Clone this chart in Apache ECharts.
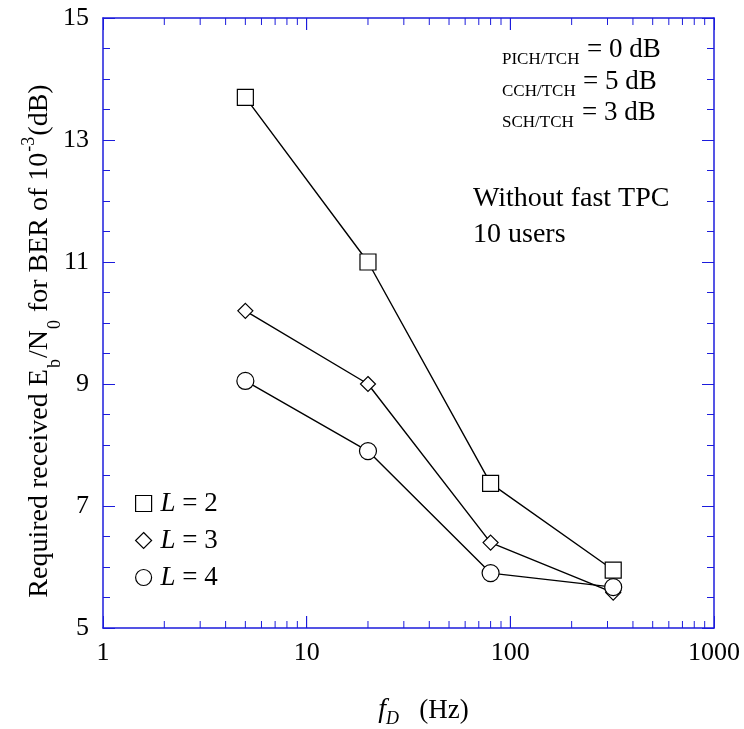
<!DOCTYPE html>
<html>
<head>
<meta charset="utf-8">
<script src="https://cdn.jsdelivr.net/npm/echarts@6/dist/echarts.min.js"></script>
<style>html,body{margin:0;padding:0;background:#fff}#c{width:744px;height:729px}</style>
</head>
<body>
<div id="c"></div>
<script>
// ---- data ----
const fD = [5, 20, 80, 320];
const seriesL2 = [13.7, 11.0, 7.37, 5.95];
const seriesL3 = [10.2, 9.0, 6.4, 5.58];
const seriesL4 = [9.05, 7.9, 5.9, 5.67];
const seriesNames = ['L = 2', 'L = 3', 'L = 4'];
const xTickLabels = ['1', '10', '100', '1000'];
const xMinorTicks = [2,3,4,5,6,7,8,9,20,30,40,50,60,70,80,90,200,300,400,500,600,700,800,900];
const xMajorInner = [10, 100];
const yMin = 5, yMax = 15, yInterval = 2;

const AX = '#1c1cdc';
const SERIF = '"Liberation Serif", "DejaVu Serif", serif';

const chart = echarts.init(document.getElementById('c'));

function tickSeries(values, len) {
  return {
    type: 'custom',
    silent: true,
    xAxisIndex: 0, yAxisIndex: 0,
    clip: false,
    z: 5,
    data: values.map(v => [v]),
    encode: { x: 0 },
    renderItem: function (params, api) {
      const v = api.value(0);
      const b = api.coord([v, yMin]);
      const t = api.coord([v, yMax]);
      return {
        type: 'group',
        children: [
          { type: 'line', shape: { x1: b[0], y1: b[1], x2: b[0], y2: b[1] - len }, style: { stroke: AX, lineWidth: 1 } },
          { type: 'line', shape: { x1: t[0], y1: t[1], x2: t[0], y2: t[1] + len }, style: { stroke: AX, lineWidth: 1 } }
        ]
      };
    }
  };
}

function lineSeries(name, vals, symbol, size) {
  return {
    name: name,
    type: 'line',
    data: fD.map((x, i) => [x, vals[i]]),
    symbol: symbol,
    symbolSize: size,
    showAllSymbol: true,
    lineStyle: { color: '#000', width: 1.4 },
    itemStyle: { color: '#fff', borderColor: '#000', borderWidth: 1.2 },
    emphasis: { disabled: true },
    z: 10
  };
}

const yAxisBase = {
  type: 'value', min: yMin, max: yMax, interval: yInterval,
  axisLine: { show: true, lineStyle: { color: AX, width: 1.5 } },
  axisTick: { show: true, inside: true, length: 12, lineStyle: { color: AX } },
  minorTick: { show: true, splitNumber: 4, length: 7, lineStyle: { color: AX } },
  splitLine: { show: false }, minorSplitLine: { show: false }
};
const xAxisBase = {
  type: 'log', logBase: 10, min: 1, max: 1000,
  axisLine: { show: true, lineStyle: { color: AX, width: 1.5 } },
  axisTick: { show: true, inside: true, length: 12, lineStyle: { color: AX } },
  splitLine: { show: false }
};

chart.setOption({
  animation: false,
  backgroundColor: '#fff',
  grid: { left: 103, right: 30, top: 18, bottom: 101, containLabel: false, outerBoundsMode: 'none' },
  xAxis: [
    Object.assign({}, xAxisBase, {
      position: 'bottom',
      axisLabel: {
        color: '#000', fontFamily: SERIF, fontSize: 26, margin: 12,
        formatter: function (v) { return xTickLabels[Math.round(Math.log10(v))]; }
      },
      name: '{i|f}{d|D}{n|   (Hz)}',
      nameLocation: 'middle',
      nameGap: 64,
      nameTextStyle: {
        padding: [0, 0, 0, 30],
        rich: {
          i: { fontFamily: SERIF, fontStyle: 'italic', fontSize: 28, color: '#000', lineHeight: 32, verticalAlign: 'bottom' },
          d: { fontFamily: SERIF, fontStyle: 'italic', fontSize: 18, color: '#000', verticalAlign: 'bottom', padding: [0, 0, -4, 0] },
          n: { fontFamily: SERIF, fontSize: 27, color: '#000', lineHeight: 32, verticalAlign: 'bottom' }
        }
      }
    }),
    Object.assign({}, xAxisBase, { position: 'top', axisLabel: { show: false } })
  ],
  yAxis: [
    Object.assign({}, yAxisBase, {
      position: 'left',
      axisLabel: { color: '#000', fontFamily: SERIF, fontSize: 26, margin: 14 },
      name: '{n|Required received E}{s|b}{n|/N}{s|0}{n| for BER of 10}{p|-3}{n|(dB)}',
      nameLocation: 'middle',
      nameRotate: 90,
      nameGap: 47,
      nameMoveOverlap: false,
      nameTextStyle: {
        padding: [0, 36, 0, 0],
        rich: {
          n: { fontFamily: SERIF, fontSize: 28, color: '#000', lineHeight: 32, verticalAlign: 'middle' },
          s: { fontFamily: SERIF, fontSize: 18, color: '#000', verticalAlign: 'bottom', padding: [0, 1, -8, 1] },
          p: { fontFamily: SERIF, fontSize: 18, color: '#000', verticalAlign: 'top', padding: [-4, 1, 0, 1] }
        }
      }
    }),
    Object.assign({}, yAxisBase, { position: 'right', axisLabel: { show: false } })
  ],
  legend: {
    orient: 'vertical',
    left: 130, top: 485,
    itemWidth: 16, itemHeight: 16,
    itemGap: 10,
    data: [
      { name: seriesNames[0], icon: 'rect' },
      { name: seriesNames[1], icon: 'diamond' },
      { name: seriesNames[2], icon: 'circle' }
    ],
    itemStyle: { color: '#fff', borderColor: '#000', borderWidth: 1.2 },
    selectedMode: false,
    formatter: function (n) { return '{i|L}{n|' + n.slice(1) + '}'; },
    textStyle: {
      rich: {
        i: { fontFamily: SERIF, fontStyle: 'italic', fontSize: 27, color: '#000', lineHeight: 27, padding: [0, 0, 0, 4] },
        n: { fontFamily: SERIF, fontSize: 27, color: '#000', lineHeight: 27 }
      }
    }
  },
  graphic: [
    { type: 'text', left: 502, top: 51, style: { text: 'PICH/TCH', font: '17px ' + SERIF, fill: '#000' } },
    { type: 'text', left: 587, top: 36, style: { text: '= 0 dB', font: '27px ' + SERIF, fill: '#000' } },
    { type: 'text', left: 502, top: 83, style: { text: 'CCH/TCH', font: '17px ' + SERIF, fill: '#000' } },
    { type: 'text', left: 583, top: 68, style: { text: '= 5 dB', font: '27px ' + SERIF, fill: '#000' } },
    { type: 'text', left: 502, top: 114, style: { text: 'SCH/TCH', font: '17px ' + SERIF, fill: '#000' } },
    { type: 'text', left: 582, top: 99, style: { text: '= 3 dB', font: '27px ' + SERIF, fill: '#000' } },
    { type: 'text', left: 473, top: 185, style: { text: 'Without fast TPC', font: '28px ' + SERIF, fill: '#000' } },
    { type: 'text', left: 473, top: 221, style: { text: '10 users', font: '28px ' + SERIF, fill: '#000' } }
  ],
  series: [
    tickSeries(xMinorTicks, 7),
    tickSeries(xMajorInner, 12),
    lineSeries(seriesNames[0], seriesL2, 'rect', 16),
    lineSeries(seriesNames[1], seriesL3, 'diamond', 15),
    lineSeries(seriesNames[2], seriesL4, 'circle', 17)
  ]
});
</script>
</body>
</html>
